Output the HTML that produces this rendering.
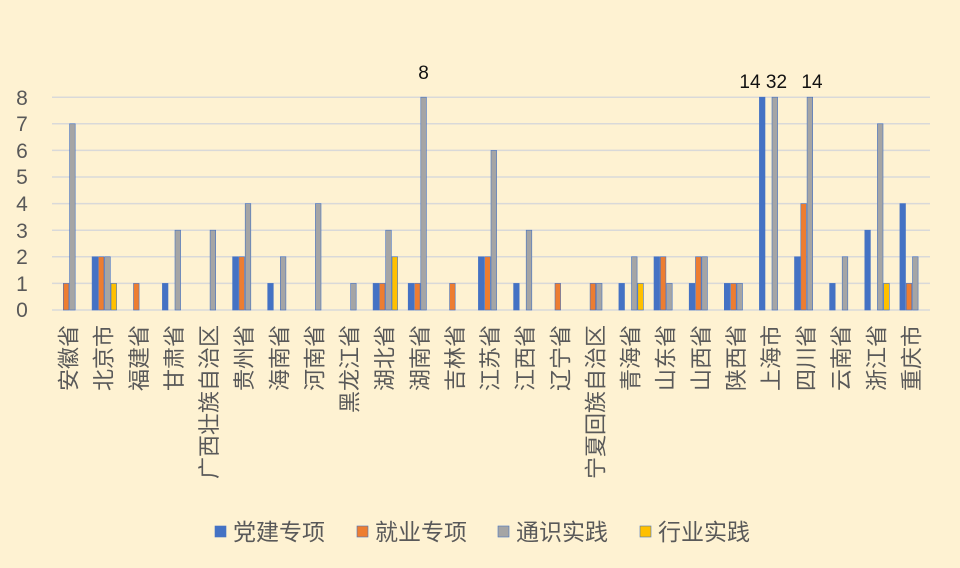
<!DOCTYPE html>
<html><head><meta charset="utf-8"><style>
html,body{margin:0;padding:0;background:#FEF2D2;}
svg{display:block}
.a{fill:#4472C4;stroke:#4472C4;stroke-width:.6}
.b{fill:#ED7D31;stroke:#4472C4;stroke-width:.6}
.c{fill:#A5A5A5;stroke:#4472C4;stroke-width:.6}
.d{fill:#FFC000;stroke:#4472C4;stroke-width:.6}
text{font-family:"Liberation Sans","Noto Sans CJK SC",sans-serif;fill:#595959}
.x{font-size:22px}
</style></head><body>
<svg width="960" height="568" viewBox="0 0 960 568" xmlns="http://www.w3.org/2000/svg">
<rect width="960" height="568" fill="#FEF2D2"/>
<g stroke="#D9D9D9" stroke-width="1.5">
<line x1="52" x2="930" y1="97.2" y2="97.2"/><line x1="52" x2="930" y1="123.8" y2="123.8"/><line x1="52" x2="930" y1="150.4" y2="150.4"/><line x1="52" x2="930" y1="177" y2="177"/><line x1="52" x2="930" y1="203.6" y2="203.6"/><line x1="52" x2="930" y1="230.2" y2="230.2"/><line x1="52" x2="930" y1="256.8" y2="256.8"/><line x1="52" x2="930" y1="283.4" y2="283.4"/><line x1="52" x2="930" y1="310" y2="310"/>
</g>
<g font-size="21" text-anchor="middle">
<text x="22" y="105">8</text><text x="22" y="131">7</text><text x="22" y="158">6</text><text x="22" y="184">5</text><text x="22" y="211">4</text><text x="22" y="238">3</text><text x="22" y="264">2</text><text x="22" y="291">1</text><text x="22" y="317">0</text>
</g>
<g>
<g transform="translate(69.6,0)"><rect class="b" x="-6.3" y="283.4" width="5.6" height="26.6"/><rect class="c" x="0" y="123.8" width="5.6" height="186.2"/><text class="x" transform="translate(7,325) rotate(-90)" text-anchor="end">安徽省</text></g>
<g transform="translate(104.7,0)"><rect class="a" x="-12.6" y="256.8" width="5.6" height="53.2"/><rect class="b" x="-6.3" y="256.8" width="5.6" height="53.2"/><rect class="c" x="0" y="256.8" width="5.6" height="53.2"/><rect class="d" x="6.3" y="283.4" width="5.6" height="26.6"/><text class="x" transform="translate(7,325) rotate(-90)" text-anchor="end">北京市</text></g>
<g transform="translate(139.8,0)"><rect class="b" x="-6.3" y="283.4" width="5.6" height="26.6"/><text class="x" transform="translate(7,325) rotate(-90)" text-anchor="end">福建省</text></g>
<g transform="translate(175,0)"><rect class="a" x="-12.6" y="283.4" width="5.6" height="26.6"/><rect class="c" x="0" y="230.2" width="5.6" height="79.8"/><text class="x" transform="translate(7,325) rotate(-90)" text-anchor="end">甘肃省</text></g>
<g transform="translate(210.1,0)"><rect class="c" x="0" y="230.2" width="5.6" height="79.8"/><text class="x" transform="translate(7,325) rotate(-90)" text-anchor="end">广西壮族自治区</text></g>
<g transform="translate(245.2,0)"><rect class="a" x="-12.6" y="256.8" width="5.6" height="53.2"/><rect class="b" x="-6.3" y="256.8" width="5.6" height="53.2"/><rect class="c" x="0" y="203.6" width="5.6" height="106.4"/><text class="x" transform="translate(7,325) rotate(-90)" text-anchor="end">贵州省</text></g>
<g transform="translate(280.3,0)"><rect class="a" x="-12.6" y="283.4" width="5.6" height="26.6"/><rect class="c" x="0" y="256.8" width="5.6" height="53.2"/><text class="x" transform="translate(7,325) rotate(-90)" text-anchor="end">海南省</text></g>
<g transform="translate(315.4,0)"><rect class="c" x="0" y="203.6" width="5.6" height="106.4"/><text class="x" transform="translate(7,325) rotate(-90)" text-anchor="end">河南省</text></g>
<g transform="translate(350.6,0)"><rect class="c" x="0" y="283.4" width="5.6" height="26.6"/><text class="x" transform="translate(7,325) rotate(-90)" text-anchor="end">黑龙江省</text></g>
<g transform="translate(385.7,0)"><rect class="a" x="-12.6" y="283.4" width="5.6" height="26.6"/><rect class="b" x="-6.3" y="283.4" width="5.6" height="26.6"/><rect class="c" x="0" y="230.2" width="5.6" height="79.8"/><rect class="d" x="6.3" y="256.8" width="5.6" height="53.2"/><text class="x" transform="translate(7,325) rotate(-90)" text-anchor="end">湖北省</text></g>
<g transform="translate(420.8,0)"><rect class="a" x="-12.6" y="283.4" width="5.6" height="26.6"/><rect class="b" x="-6.3" y="283.4" width="5.6" height="26.6"/><rect class="c" x="0" y="97.2" width="5.6" height="212.8"/><text class="x" transform="translate(7,325) rotate(-90)" text-anchor="end">湖南省</text></g>
<g transform="translate(455.9,0)"><rect class="b" x="-6.3" y="283.4" width="5.6" height="26.6"/><text class="x" transform="translate(7,325) rotate(-90)" text-anchor="end">吉林省</text></g>
<g transform="translate(491,0)"><rect class="a" x="-12.6" y="256.8" width="5.6" height="53.2"/><rect class="b" x="-6.3" y="256.8" width="5.6" height="53.2"/><rect class="c" x="0" y="150.4" width="5.6" height="159.6"/><text class="x" transform="translate(7,325) rotate(-90)" text-anchor="end">江苏省</text></g>
<g transform="translate(526.2,0)"><rect class="a" x="-12.6" y="283.4" width="5.6" height="26.6"/><rect class="c" x="0" y="230.2" width="5.6" height="79.8"/><text class="x" transform="translate(7,325) rotate(-90)" text-anchor="end">江西省</text></g>
<g transform="translate(561.3,0)"><rect class="b" x="-6.3" y="283.4" width="5.6" height="26.6"/><text class="x" transform="translate(7,325) rotate(-90)" text-anchor="end">辽宁省</text></g>
<g transform="translate(596.4,0)"><rect class="b" x="-6.3" y="283.4" width="5.6" height="26.6"/><rect class="c" x="0" y="283.4" width="5.6" height="26.6"/><text class="x" transform="translate(7,325) rotate(-90)" text-anchor="end">宁夏回族自治区</text></g>
<g transform="translate(631.5,0)"><rect class="a" x="-12.6" y="283.4" width="5.6" height="26.6"/><rect class="c" x="0" y="256.8" width="5.6" height="53.2"/><rect class="d" x="6.3" y="283.4" width="5.6" height="26.6"/><text class="x" transform="translate(7,325) rotate(-90)" text-anchor="end">青海省</text></g>
<g transform="translate(666.6,0)"><rect class="a" x="-12.6" y="256.8" width="5.6" height="53.2"/><rect class="b" x="-6.3" y="256.8" width="5.6" height="53.2"/><rect class="c" x="0" y="283.4" width="5.6" height="26.6"/><text class="x" transform="translate(7,325) rotate(-90)" text-anchor="end">山东省</text></g>
<g transform="translate(701.8,0)"><rect class="a" x="-12.6" y="283.4" width="5.6" height="26.6"/><rect class="b" x="-6.3" y="256.8" width="5.6" height="53.2"/><rect class="c" x="0" y="256.8" width="5.6" height="53.2"/><text class="x" transform="translate(7,325) rotate(-90)" text-anchor="end">山西省</text></g>
<g transform="translate(736.9,0)"><rect class="a" x="-12.6" y="283.4" width="5.6" height="26.6"/><rect class="b" x="-6.3" y="283.4" width="5.6" height="26.6"/><rect class="c" x="0" y="283.4" width="5.6" height="26.6"/><text class="x" transform="translate(7,325) rotate(-90)" text-anchor="end">陕西省</text></g>
<g transform="translate(772,0)"><rect class="a" x="-12.6" y="97.2" width="5.6" height="212.8"/><rect class="c" x="0" y="97.2" width="5.6" height="212.8"/><text class="x" transform="translate(7,325) rotate(-90)" text-anchor="end">上海市</text></g>
<g transform="translate(807.1,0)"><rect class="a" x="-12.6" y="256.8" width="5.6" height="53.2"/><rect class="b" x="-6.3" y="203.6" width="5.6" height="106.4"/><rect class="c" x="0" y="97.2" width="5.6" height="212.8"/><text class="x" transform="translate(7,325) rotate(-90)" text-anchor="end">四川省</text></g>
<g transform="translate(842.2,0)"><rect class="a" x="-12.6" y="283.4" width="5.6" height="26.6"/><rect class="c" x="0" y="256.8" width="5.6" height="53.2"/><text class="x" transform="translate(7,325) rotate(-90)" text-anchor="end">云南省</text></g>
<g transform="translate(877.4,0)"><rect class="a" x="-12.6" y="230.2" width="5.6" height="79.8"/><rect class="c" x="0" y="123.8" width="5.6" height="186.2"/><rect class="d" x="6.3" y="283.4" width="5.6" height="26.6"/><text class="x" transform="translate(7,325) rotate(-90)" text-anchor="end">浙江省</text></g>
<g transform="translate(912.5,0)"><rect class="a" x="-12.6" y="203.6" width="5.6" height="106.4"/><rect class="b" x="-6.3" y="283.4" width="5.6" height="26.6"/><rect class="c" x="0" y="256.8" width="5.6" height="53.2"/><text class="x" transform="translate(7,325) rotate(-90)" text-anchor="end">重庆市</text></g>
</g>
<g font-size="19" text-anchor="middle">
<text x="423.5" y="79" style="fill:#111">8</text>
<text x="750" y="88" style="fill:#111">14</text>
<text x="776.5" y="88" style="fill:#111">32</text>
<text x="812" y="88" style="fill:#111">14</text>
</g>
<g font-size="23">
<rect class="a" x="215" y="526" width="11" height="11"/><text x="233" y="540">党建专项</text>
<rect class="b" x="357" y="526" width="11" height="11"/><text x="375" y="540">就业专项</text>
<rect class="c" x="498" y="526" width="11" height="11"/><text x="516" y="540">通识实践</text>
<rect class="d" x="640" y="526" width="11" height="11"/><text x="658" y="540">行业实践</text>
</g>
</svg>
</body></html>
